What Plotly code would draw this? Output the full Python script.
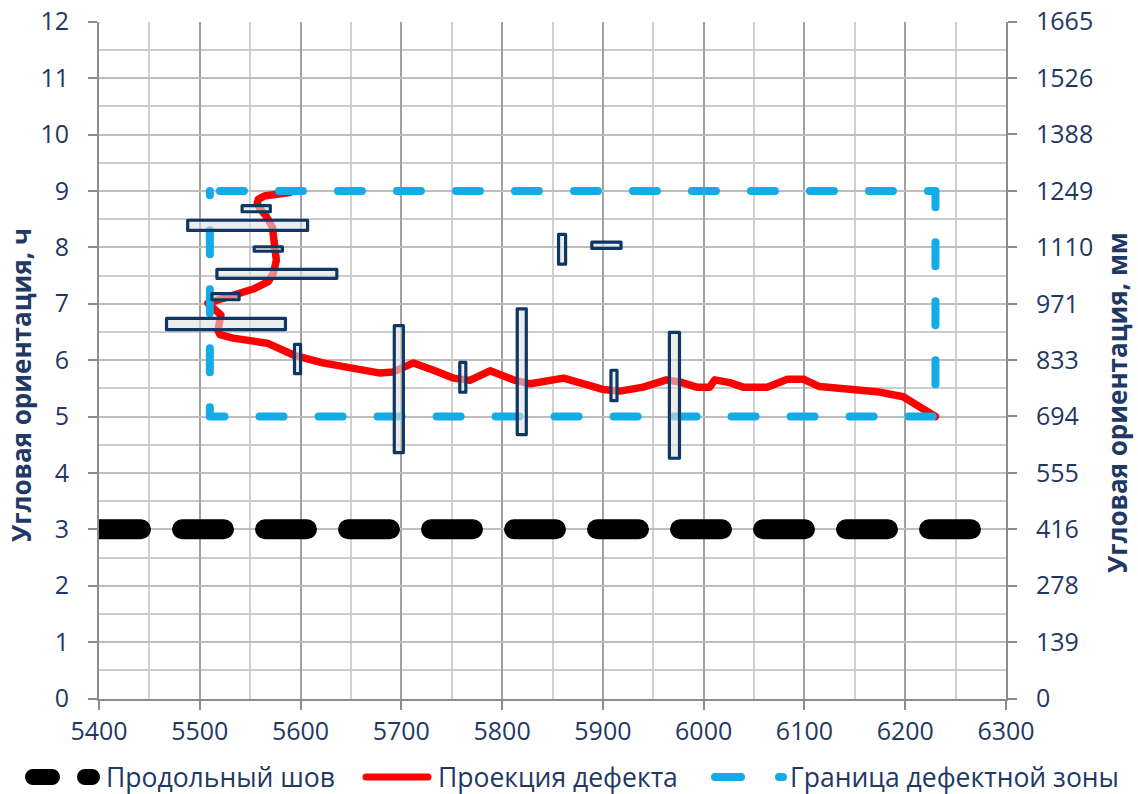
import plotly.graph_objects as go

W, H = 1138, 794

# ---------------- data ----------------
x_tick_vals = list(range(5400, 6301, 100))
y_tick_hours = list(range(0, 13))
y_tick_mm = [0, 139, 278, 416, 555, 694, 833, 971, 1110, 1249, 1388, 1526, 1665]

seam_name = "Продольный шов"
seam_x = [5400, 6300]
seam_y = [3, 3]

proj_name = "Проекция дефекта"
proj_x = [5589, 5575, 5564, 5558, 5557, 5560, 5566, 5572, 5574, 5576, 5573, 5568,
          5553, 5533, 5517, 5508, 5521, 5518, 5520, 5533, 5567, 5593, 5622, 5649,
          5679, 5692, 5712, 5732, 5752, 5768, 5788, 5811, 5828, 5861, 5877, 5900,
          5917, 5940, 5963, 5977, 5993, 6006, 6011, 6026, 6039, 6063, 6083, 6099,
          6115, 6145, 6172, 6198, 6230]
proj_y = [8.97, 8.95, 8.91, 8.85, 8.78, 8.68, 8.55, 8.36, 8.13, 7.77, 7.54, 7.39,
          7.26, 7.14, 7.06, 7.01, 6.80, 6.53, 6.45, 6.39, 6.30, 6.09, 5.95, 5.86,
          5.77, 5.79, 5.95, 5.82, 5.68, 5.64, 5.81, 5.65, 5.58, 5.68, 5.61, 5.48,
          5.45, 5.52, 5.65, 5.61, 5.52, 5.52, 5.65, 5.60, 5.52, 5.52, 5.66, 5.66,
          5.53, 5.48, 5.44, 5.35, 5.00]

zone_name = "Граница дефектной зоны"
zone_x = [5520, 6230, 6230, 5510, 5510]
zone_y = [9, 9, 5, 5, 9]

# defects (rectangles): x from..to, y from..to
defect_x0 = [5542, 5488, 5554, 5517, 5512, 5467, 5594, 5693, 5758, 5815, 5908, 5966, 5856, 5889]
defect_x1 = [5570, 5607, 5582, 5636, 5539, 5585, 5600, 5702, 5764, 5824, 5914, 5976, 5863, 5918]
defect_y0 = [8.63, 8.30, 7.93, 7.45, 7.07, 6.54, 5.76, 4.36, 5.43, 4.68, 5.28, 4.26, 7.70, 7.98]
defect_y1 = [8.74, 8.48, 8.01, 7.61, 7.18, 6.74, 6.28, 6.61, 5.96, 6.91, 5.82, 6.49, 8.23, 8.09]

# ---------------- style ----------------
NAVY = "#1F3864"
BLUE = "#14ACE6"
FONT = "Open Sans"

def pxx(x):
    return x / W

def pyy(y):
    return (H - y) / H

fig = go.Figure()

fig.add_trace(go.Scatter(x=seam_x, y=seam_y, mode="lines", name=seam_name,
                         line=dict(color="black", width=20, dash="42px,41px"),
                         showlegend=False, hoverinfo="skip"))
fig.add_trace(go.Scatter(x=proj_x, y=proj_y, mode="lines", name=proj_name,
                         line=dict(color="#FF0000", width=7.5),
                         showlegend=False, hoverinfo="skip"))
fig.add_trace(go.Scatter(x=zone_x, y=zone_y, mode="lines", name=zone_name,
                         line=dict(color=BLUE, width=8, dash="24px,35px"),
                         showlegend=False, hoverinfo="skip"))
# invisible trace that activates the right-hand (mm) axis
fig.add_trace(go.Scatter(x=[seam_x[0], seam_x[0]], y=[y_tick_mm[0], y_tick_mm[-1]],
                         yaxis="y2", mode="markers", marker=dict(opacity=0, size=1),
                         showlegend=False, hoverinfo="skip"))

for x0, x1, y0, y1 in zip(defect_x0, defect_x1, defect_y0, defect_y1):
    fig.add_shape(type="rect", xref="x", yref="y", x0=x0, x1=x1, y0=y0, y1=y1,
                  line=dict(color="#0E3766", width=3.2),
                  fillcolor="rgba(225,225,225,0.6)", layer="above")

# ---------------- custom legend ----------------
leg_y = pyy(777)
fig.add_shape(type="line", xref="paper", yref="paper", x0=pxx(33), x1=pxx(92),
              y0=leg_y, y1=leg_y, line=dict(color="black", width=16, dash="19px,33px"))
fig.add_shape(type="line", xref="paper", yref="paper", x0=pxx(366), x1=pxx(428),
              y0=leg_y, y1=leg_y, line=dict(color="#FF0000", width=7))
fig.add_shape(type="line", xref="paper", yref="paper", x0=pxx(715), x1=pxx(783),
              y0=leg_y, y1=leg_y, line=dict(color=BLUE, width=8, dash="26px,38px"))
for txt, xl in [(seam_name, 104), (proj_name, 436), (zone_name, 788)]:
    fig.add_annotation(text=txt, xref="paper", yref="paper", x=pxx(xl), y=leg_y,
                       xanchor="left", yanchor="middle", showarrow=False,
                       font=dict(family=FONT, size=26.5, color=NAVY))

# axis titles
fig.add_annotation(text="<b>Угловая ориентация, ч</b>", xref="paper", yref="paper",
                   x=pxx(21), y=pyy(385), textangle=-90, showarrow=False,
                   xanchor="center", yanchor="middle",
                   font=dict(family=FONT, size=26, color=NAVY))
fig.add_annotation(text="<b>Угловая ориентация, мм</b>", xref="paper", yref="paper",
                   x=pxx(1117), y=pyy(403), textangle=-90, showarrow=False,
                   xanchor="center", yanchor="middle",
                   font=dict(family=FONT, size=26, color=NAVY))

AX_LINE = "#8C8C8C"
fig.update_layout(
    template="none",
    width=W, height=H,
    margin=dict(l=0, r=0, t=0, b=0, pad=0, autoexpand=False),
    paper_bgcolor="white", plot_bgcolor="white",
    showlegend=False,
    font=dict(family=FONT, size=25, color=NAVY),
    xaxis=dict(domain=[pxx(99), pxx(1006)], range=[5400, 6300], automargin=False,
               tickvals=x_tick_vals, ticks="outside", ticklen=9, tickwidth=2,
               tickcolor=AX_LINE, showline=True, linecolor=AX_LINE, linewidth=2,
               showgrid=True, gridcolor="#A0A0A0", gridwidth=1.5,
               minor=dict(dtick=50, showgrid=True, gridcolor="#D0D0D0", gridwidth=1.5),
               zeroline=False, tickfont=dict(family=FONT, size=25, color=NAVY),
               anchor="y"),
    yaxis=dict(domain=[pyy(698.5), pyy(21.7)], range=[0, 12], automargin=False,
               tickvals=y_tick_hours, ticks="outside", ticklen=9, tickwidth=2,
               tickcolor=AX_LINE, showline=True, linecolor=AX_LINE, linewidth=2,
               showgrid=True, gridcolor="#BDBDBD", gridwidth=1.5,
               minor=dict(dtick=0.5, showgrid=True, gridcolor="#CCCCCC", gridwidth=1.5),
               zeroline=False, tickfont=dict(family=FONT, size=25, color=NAVY),
               ticklabelstandoff=14, anchor="x"),
    yaxis2=dict(overlaying="y", side="right", anchor="x", range=[0, 1665], automargin=False,
                tickvals=y_tick_mm, ticktext=[str(v) for v in y_tick_mm],
                ticks="outside", ticklen=9, tickwidth=2, tickcolor=AX_LINE,
                showline=True, linecolor=AX_LINE, linewidth=2, showgrid=False,
                zeroline=False, tickfont=dict(family=FONT, size=25, color=NAVY),
                ticklabelstandoff=14),
)

post = ("var s=document.createElement('style');"
        "s.innerHTML='html,body{margin:0;padding:0;overflow:hidden}"
        ".js-line, .shapelayer path{stroke-linecap:round;stroke-linejoin:round}';"
        "document.head.appendChild(s);")
fig.write_html("out.html", post_script=post, config={"displayModeBar": False})
